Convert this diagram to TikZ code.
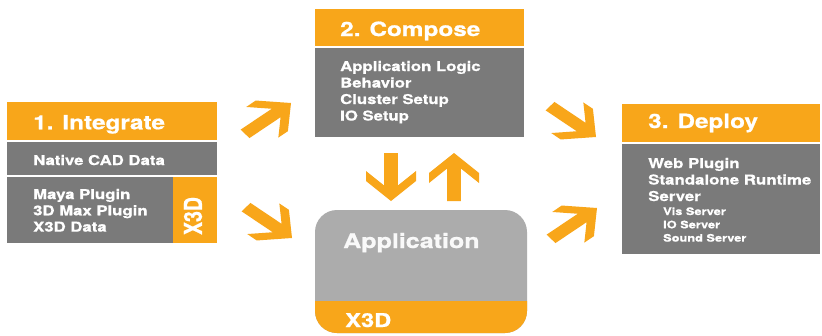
\documentclass[tikz,border=0pt]{standalone}
\usepackage{fontspec}
\setmainfont{TeX Gyre Heros}[FakeStretch=1.24, BoldFeatures={FakeBold=0.8}]
\newfontfamily\plainfont{TeX Gyre Heros}[BoldFeatures={FakeBold=0.8}]
\definecolor{xorange}{RGB}{248,166,26}
\definecolor{xgray}{RGB}{122,122,122}
\definecolor{xlight}{RGB}{172,172,172}
\newcommand\blockarrow[2]{%
  \fill[xorange, shift={(#1)}, xscale=1.25, rotate=#2]
    (0,0) -- (-20,20) -- (-30,20) -- (-15.5,5.5) -- (-48,5.5) -- (-48,-5.5)
    -- (-15.5,-5.5) -- (-30,-20) -- (-20,-20) -- cycle;}
\begin{document}
\begin{tikzpicture}[x=1pt,y=-1pt,
  txt/.style={anchor=base west, inner sep=0pt, text=white},
  headtxt/.style={txt, font=\fontsize{19.6}{23}\selectfont\bfseries},
  itemtxt/.style={txt, font=\fontsize{13.5}{16}\selectfont\bfseries},
  subtxt/.style={txt, font=\fontsize{10.3}{12}\selectfont\bfseries},
  headbox/.style={fill=xorange},
  bodybox/.style={fill=xgray}]
\useasboundingbox (0,0) rectangle (822,335);
\fill[white] (0,0) rectangle (822,335);

% 1. Integrate
\fill[headbox] (7,102) rectangle (217,140);
\fill[bodybox] (7,141.5) rectangle (217,175);
\fill[bodybox] (7,177) rectangle (173,243);
\fill[headbox] (173,177) rectangle (217,243);
\node[headtxt] (inthead) at (33,129.3) {1. Integrate};
\node[itemtxt] (cad) at (33,165) {Native CAD Data};
\node[itemtxt] (maya) at (33,199) {Maya Plugin};
\node[itemtxt] (max) at (33,215.3) {3D Max Plugin};
\node[itemtxt] (x3ddata) at (33,231.6) {X3D Data};
\node[inner sep=0pt, text=white] (x3dside) at (193,216)
  {\scalebox{1.27}[1]{\rotatebox{90}{\plainfont\fontsize{19.5}{22}\selectfont\bfseries X3D}}};

% 2. Compose
\fill[headbox] (315,9) rectangle (524,46);
\fill[bodybox] (315,47.5) rectangle (524,137);
\node[headtxt] (comphead) at (340,36) {2. Compose};
\node[itemtxt] (logic) at (340,71) {Application Logic};
\node[itemtxt] (behav) at (340,87.5) {Behavior};
\node[itemtxt] (cluster) at (340,104) {Cluster Setup};
\node[itemtxt] (iosetup) at (340,120.5) {IO Setup};

% 3. Deploy
\fill[headbox] (622,104) rectangle (820,142);
\fill[bodybox] (622,143.5) rectangle (820,254);
\node[headtxt] (dephead) at (648,128) {3. Deploy};
\node[itemtxt, font=\fontsize{13.6}{16}\selectfont\bfseries] (web) at (648,168) {Web Plugin};
\node[itemtxt, font=\fontsize{13.6}{16}\selectfont\bfseries] (standalone) at (648,184.5) {Standalone Runtime};
\node[itemtxt, font=\fontsize{13.6}{16}\selectfont\bfseries] (server) at (648,201) {Server};
\node[subtxt] (vis) at (663,215) {Vis Server};
\node[subtxt] (ioserver) at (663,228.3) {IO Server};
\node[subtxt] (sound) at (663,241.6) {Sound Server};

% Application
\fill[xlight, rounded corners=22] (315,210) rectangle (527,333);
\begin{scope}
  \clip (300,301) rectangle (540,335);
  \fill[xorange, rounded corners=22] (315,210) rectangle (527,333);
\end{scope}
\node[headtxt, text=white!95!gray, font=\fontsize{20.2}{24}\selectfont\bfseries] (app) at (343,248) {Application};
\node[headtxt, font=\fontsize{19.1}{23}\selectfont\bfseries] (appx3d) at (345,327) {X3D};

% arrows
\coordinate (a1) at (291,103);
\coordinate (a2) at (292,238);
\coordinate (a3) at (391,201);
\coordinate (a4) at (454,153);
\coordinate (a5) at (596,137);
\coordinate (a6) at (597,208);
\blockarrow{a1}{40}
\blockarrow{a2}{-40}
\blockarrow{a3}{-90}
\blockarrow{a4}{90}
\blockarrow{a5}{-40}
\blockarrow{a6}{40}
\end{tikzpicture}
\end{document}
